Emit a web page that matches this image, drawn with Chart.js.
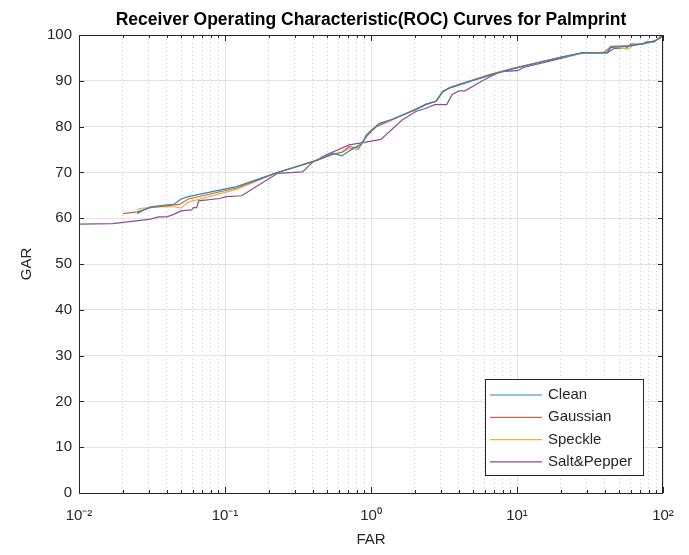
<!DOCTYPE html>
<html lang="en">
<head>
<meta charset="UTF-8" />
<title>ROC Curves for Palmprint</title>
<script src="https://cdn.jsdelivr.net/npm/chart.js"></script>
<style>
  html, body { margin: 0; padding: 0; background: #fff; }
  #wrap { width: 689px; height: 555px; }
</style>
</head>
<body>
<div id="wrap"><canvas id="rocChart" width="689" height="555"></canvas></div>
<script>
// values (FAR and GAR in %)
const seriesNames = ['Clean', 'Gaussian', 'Speckle', 'Salt&Pepper'];
const seriesColors = ['#2a88b8', '#c9653f', '#e6b53c', '#8a4e97'];

const cleanFar = [0.025, 0.027, 0.031, 0.045, 0.05, 0.056, 0.12, 0.225, 0.42, 0.55, 0.63, 0.76, 0.86, 0.93, 1.14, 1.4, 2.03, 2.38, 2.8, 3.1, 3.45, 4.5, 6.5, 9.4, 14.3, 20, 28, 41.5, 44, 60, 73, 87, 97, 100];
const cleanGar = [61.0, 61.6, 62.5, 63.1, 64.2, 64.7, 66.9, 69.9, 72.6, 74.2, 73.6, 75.3, 76.2, 78.2, 80.7, 81.6, 83.7, 84.8, 85.6, 87.7, 88.4, 89.6, 91.2, 92.6, 94.0, 95.1, 96.1, 96.1, 97.3, 97.6, 98.1, 98.6, 99.5, 100];

const gaussFar = [0.020, 0.025, 0.031, 0.045, 0.049, 0.056, 0.12, 0.225, 0.42, 0.55, 0.63, 0.71, 0.82, 0.93, 1.09, 1.4, 2.03, 2.38, 2.8, 3.1, 3.45, 4.5, 6.5, 9.4, 14.3, 20, 28, 39.6, 44, 60, 73, 87, 97, 100];
const gaussGar = [61.0, 61.4, 62.3, 62.9, 63.0, 64.2, 66.6, 69.9, 72.5, 74.0, 74.4, 75.6, 75.3, 77.8, 80.0, 81.5, 83.8, 84.9, 85.6, 87.6, 88.5, 89.7, 91.3, 92.7, 94.1, 95.2, 96.1, 96.2, 97.5, 97.7, 98.1, 98.7, 99.5, 100];

const speckleFar = [0.025, 0.026, 0.035, 0.045, 0.05, 0.056, 0.12, 0.225, 0.42, 0.55, 0.63, 0.71, 0.82, 0.98, 1.09, 1.4, 2.03, 2.38, 2.8, 3.1, 3.45, 4.5, 6.5, 9.4, 14.3, 20, 28, 39.6, 45, 58, 62, 73, 87, 97, 100];
const speckleGar = [61.8, 62.1, 62.6, 62.5, 62.2, 63.5, 66.3, 69.9, 72.7, 73.9, 74.3, 75.2, 75.0, 79.0, 80.1, 81.6, 83.9, 84.9, 85.5, 87.5, 88.5, 89.7, 91.4, 92.7, 94.1, 95.1, 96.1, 96.2, 97.4, 96.9, 97.7, 98.1, 98.6, 99.4, 100];

const saltFar = [0.01, 0.017, 0.02, 0.031, 0.035, 0.040, 0.045, 0.05, 0.059, 0.061, 0.064, 0.066, 0.092, 0.102, 0.13, 0.197, 0.23, 0.34, 0.40, 0.49, 0.71, 0.88, 1.17, 1.64, 2.03, 2.38, 2.73, 3.3, 3.6, 4.0, 4.4, 5.8, 7.6, 10.1, 11.1, 20, 28.1, 41.5, 46.5, 55.8, 60.4, 72.6, 76.6, 87.3, 97, 100];
const saltGar = [58.7, 58.8, 59.1, 59.8, 60.3, 60.3, 60.9, 61.6, 61.8, 62.3, 62.3, 63.8, 64.3, 64.7, 64.9, 68.5, 69.8, 70.1, 72.3, 73.8, 76.0, 76.5, 77.2, 81.5, 83.3, 84.0, 84.8, 84.8, 87.0, 87.8, 87.8, 90.0, 92.0, 92.2, 92.9, 94.9, 96.1, 96.1, 97.1, 97.1, 98.0, 98.0, 98.5, 98.5, 99.8, 100];

const decadeTicks = [0.01, 0.1, 1, 10, 100];
const decadeLabels = ['10\u207B\u00B2', '10\u207B\u00B9', '10\u2070', '10\u00B9', '10\u00B2'];

const axisColor = '#262626';
const font = 'Liberation Sans, Arial, Helvetica, sans-serif';

function zip(xs, ys) {
    return xs.map((x, i) => ({ x: x, y: ys[i] }));
}

const allFar = [cleanFar, gaussFar, speckleFar, saltFar];
const allGar = [cleanGar, gaussGar, speckleGar, saltGar];

const datasets = seriesNames.map((name, i) => ({
    label: name,
    data: zip(allFar[i], allGar[i]),
    borderColor: seriesColors[i],
    backgroundColor: seriesColors[i],
    borderWidth: 1.2,
    pointRadius: 0,
    tension: 0,
    fill: false
}));

function isDecade(v) {
    return decadeTicks.some(d => Math.abs(v / d - 1) < 1e-6);
}

// box, inward ticks and legend the way MATLAB draws them
const matlabAxes = {
    id: 'matlabAxes',
    afterDraw(chart) {
        const { ctx, chartArea: a, scales } = chart;
        ctx.save();
        ctx.strokeStyle = axisColor;
        ctx.lineWidth = 1;
        ctx.strokeRect(a.left + 0.5, a.top + 0.5, a.right - a.left - 1, a.bottom - a.top);

        ctx.beginPath();
        scales.y.ticks.forEach(t => {
            const py = Math.round(scales.y.getPixelForValue(t.value)) + 0.5;
            ctx.moveTo(a.left, py); ctx.lineTo(a.left + 5, py);
            ctx.moveTo(a.right, py); ctx.lineTo(a.right - 5, py);
        });
        scales.x.ticks.forEach(t => {
            const px = Math.round(scales.x.getPixelForValue(t.value)) + 0.5;
            const len = isDecade(t.value) ? 6 : 3;
            ctx.moveTo(px, a.bottom); ctx.lineTo(px, a.bottom - len);
            ctx.moveTo(px, a.top); ctx.lineTo(px, a.top + len);
        });
        ctx.stroke();

        // legend
        const bx = a.right - 178, by = a.bottom - 114, bw = 158, bh = 96;
        ctx.fillStyle = '#fff';
        ctx.fillRect(bx, by, bw, bh);
        ctx.strokeStyle = axisColor;
        ctx.strokeRect(bx + 0.5, by + 0.5, bw, bh);
        ctx.font = '15px ' + font;
        ctx.textBaseline = 'middle';
        chart.data.datasets.forEach((ds, i) => {
            const ry = by + 16 + i * 22.3;
            ctx.strokeStyle = ds.borderColor;
            ctx.lineWidth = 1.2;
            ctx.beginPath();
            ctx.moveTo(bx + 5, ry); ctx.lineTo(bx + 57, ry);
            ctx.stroke();
            ctx.fillStyle = axisColor;
            ctx.fillText(ds.label, bx + 63, ry);
        });
        ctx.restore();
    }
};

new Chart(document.getElementById('rocChart'), {
    type: 'line',
    data: { datasets: datasets },
    options: {
        responsive: false,
        animation: false,
        layout: { padding: { left: 0, right: 26, top: 0, bottom: 0 } },
        plugins: {
            legend: { display: false },
            tooltip: { enabled: false },
            title: {
                display: true,
                fullSize: false,
                text: 'Receiver Operating Characteristic(ROC) Curves for Palmprint',
                color: '#000',
                font: { family: font, size: 17.5, weight: 'bold' },
                padding: { top: 10, bottom: 4 }
            }
        },
        scales: {
            x: {
                type: 'logarithmic',
                min: 0.01,
                max: 100,
                afterBuildTicks(scale) {
                    const ticks = [];
                    decadeTicks.forEach((d, i) => {
                        ticks.push({ value: d });
                        if (i < decadeTicks.length - 1) {
                            for (let k = 2; k <= 9; k++) ticks.push({ value: d * k });
                        }
                    });
                    scale.ticks = ticks;
                },
                afterFit(scale) { scale.height = 62; },
                ticks: {
                    autoSkip: false,
                    maxRotation: 0,
                    padding: 14,
                    color: axisColor,
                    font: { family: font, size: 15 },
                    callback(value) {
                        const i = decadeTicks.findIndex(d => Math.abs(value / d - 1) < 1e-6);
                        return i >= 0 ? decadeLabels[i] : '';
                    }
                },
                grid: {
                    drawTicks: false,
                    color: ctx => isDecade(ctx.tick.value) ? '#e3e3e3' : '#cdcdcd',
                    lineWidth: 1
                },
                border: {
                    display: false,
                    dash: ctx => isDecade(ctx.tick.value) ? [] : [1, 3]
                },
                title: {
                    display: true,
                    text: 'FAR',
                    color: axisColor,
                    font: { family: font, size: 15 },
                    padding: { top: 0, bottom: 6 }
                }
            },
            y: {
                min: 0,
                max: 100,
                afterFit(scale) { scale.width = 79; },
                ticks: {
                    stepSize: 10,
                    padding: 7,
                    color: axisColor,
                    font: { family: font, size: 15 }
                },
                grid: {
                    drawTicks: false,
                    color: '#e3e3e3',
                    lineWidth: 1
                },
                border: { display: false },
                title: {
                    display: true,
                    text: 'GAR',
                    color: axisColor,
                    font: { family: font, size: 15 },
                    padding: { top: 18, bottom: 0 }
                }
            }
        }
    },
    plugins: [matlabAxes]
});
</script>
</body>
</html>
